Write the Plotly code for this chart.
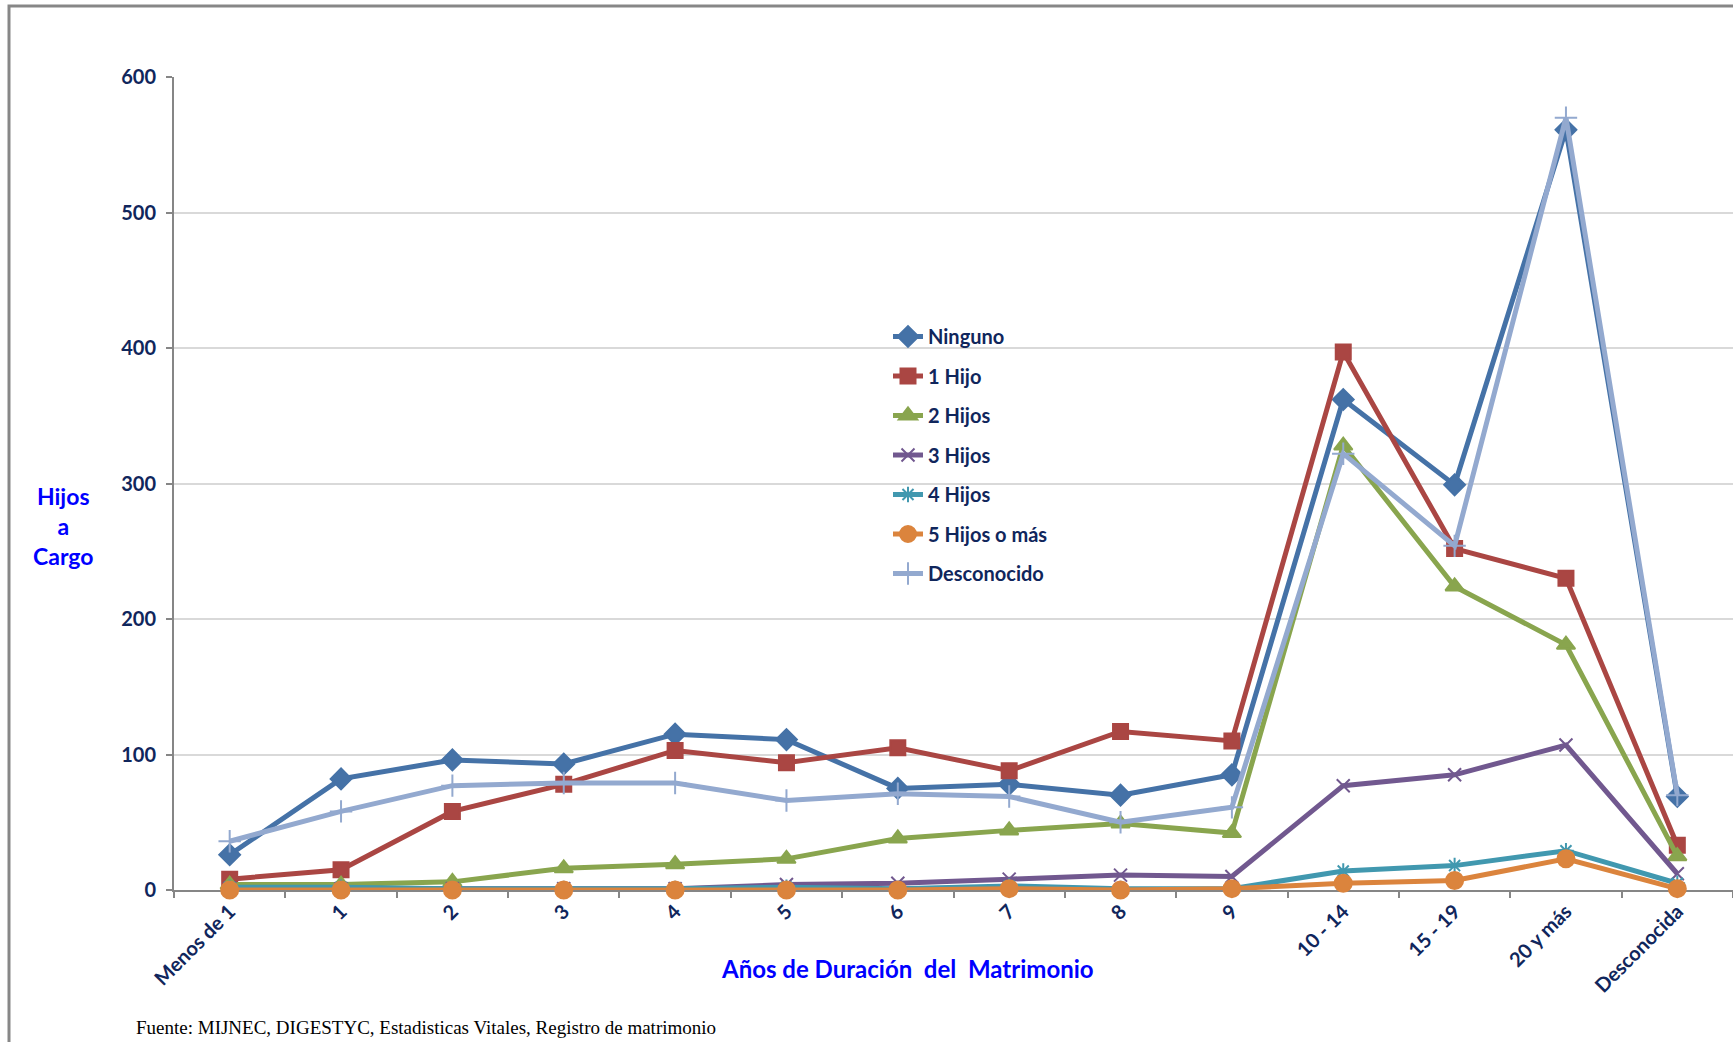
import plotly.graph_objects as go

categories = ["Menos de 1", "1", "2", "3", "4", "5", "6", "7", "8", "9",
              "10 - 14", "15 - 19", "20 y más", "Desconocida"]

ninguno     = [26, 82, 96, 93, 115, 111, 75, 78, 70, 85, 362, 299, 561, 69]
un_hijo     = [8, 15, 58, 78, 103, 94, 105, 88, 117, 110, 397, 252, 230, 33]
dos_hijos   = [4, 4, 6, 16, 19, 23, 38, 44, 49, 42, 328, 224, 181, 25]
tres_hijos  = [1, 1, 1, 1, 1, 4, 5, 8, 11, 10, 77, 85, 107, 12]
cuatro_hijos = [2, 2, 1, 1, 1, 2, 1, 3, 1, 1, 14, 18, 29, 5]
cinco_mas   = [0, 0, 0, 0, 0, 0, 0, 1, 0, 1, 5, 7, 23, 1]
desconocido = [36, 58, 77, 79, 79, 66, 71, 69, 50, 61, 322, 254, 570, 70]

series = [
    ("Ninguno", ninguno, "#4572A7", "diamond", 16),
    ("1 Hijo", un_hijo, "#AA4643", "square", 15),
    ("2 Hijos", dos_hijos, "#89A54E", "triangle-up", 16),
    ("3 Hijos", tres_hijos, "#71588F", "x-thin-open", 13),
    ("4 Hijos", cuatro_hijos, "#4198AF", "asterisk-open", 13),
    ("5 Hijos o más", cinco_mas, "#DB843D", "circle", 17),
    ("Desconocido", desconocido, "#93A9CF", "cross-thin-open", 16),
]

navy = "#10265C"
W, H = 1733, 1042
L, R, T, B = 174, 0, 77, 152
pw, ph = W - L - R, H - T - B

def px_x(x):
    return (x - L) / pw

def px_y(y):
    return (H - B - y) / ph

fig = go.Figure()
for i, (name, vals, color, sym, size) in enumerate(series):
    fig.add_trace(go.Scatter(
        x=categories, y=vals, name=name, mode="lines+markers",
        line=dict(color=color, width=5),
        marker=dict(symbol=sym, size=size, color=color,
                    line=dict(color=color, width=2)),
        legendgroup=f"g{i}", cliponaxis=False,
    ))

fig.update_layout(
    width=W, height=H,
    margin=dict(l=L, r=R, t=T, b=B, pad=0),
    paper_bgcolor="white", plot_bgcolor="white",
    font=dict(family="Lato, 'Open Sans', sans-serif", color=navy),
    hovermode=False,
    showlegend=True,
    legend=dict(
        x=px_x(888), y=px_y(317), xanchor="left", yanchor="top",
        traceorder="grouped", tracegroupgap=10.5,
        font=dict(size=20, color=navy, family="Lato", weight="bold"),
        bgcolor="rgba(0,0,0,0)",
    ),
    xaxis=dict(
        type="category", range=[-0.5, 13.5],
        showgrid=False, showline=True, linecolor="#868686", linewidth=2,
        ticks="outside", ticklen=6, tickcolor="#868686", tickwidth=2,
        tickson="boundaries", tickangle=-45,
        tickfont=dict(size=20, color=navy, family="Lato", weight="bold"),
        layer="below traces",
    ),
    yaxis=dict(
        range=[0, 600], dtick=100,
        showgrid=True, gridcolor="#D9D9D9", gridwidth=2,
        showline=True, linecolor="#868686", linewidth=2,
        ticks="outside", ticklen=6, tickcolor="#868686", tickwidth=2,
        ticklabelstandoff=6,
        tickfont=dict(size=20, color=navy, family="Lato", weight="bold"),
        zeroline=False, layer="below traces",
    ),
    annotations=[
        dict(text="Hijos<br>a<br>Cargo", xref="paper", yref="paper",
             x=px_x(63), y=px_y(526), xanchor="center", yanchor="middle",
             showarrow=False, align="center",
             font=dict(size=23, color="#0000FF", family="Lato", weight="bold")),
        dict(text="Años de Duración\u00a0 del\u00a0 Matrimonio", xref="paper", yref="paper",
             x=px_x(907), y=px_y(968), xanchor="center", yanchor="middle",
             showarrow=False,
             font=dict(size=24, color="#0000FF", family="Lato", weight="bold")),
        dict(text="Fuente: MIJNEC, DIGESTYC, Estadisticas Vitales, Registro de matrimonio",
             xref="paper", yref="paper",
             x=px_x(134), y=px_y(1027), xanchor="left", yanchor="middle",
             showarrow=False,
             font=dict(size=19, color="#000000", family="Liberation Serif")),
    ],
    shapes=[
        dict(type="rect", xref="paper", yref="paper",
             x0=px_x(9), x1=px_x(1790), y0=px_y(1100), y1=px_y(6),
             line=dict(color="#878787", width=3), layer="below"),
    ],
)

fig.write_html("out.html", config={"displayModeBar": False},
               post_script="document.body.style.margin='0';document.body.style.overflow='hidden';")
